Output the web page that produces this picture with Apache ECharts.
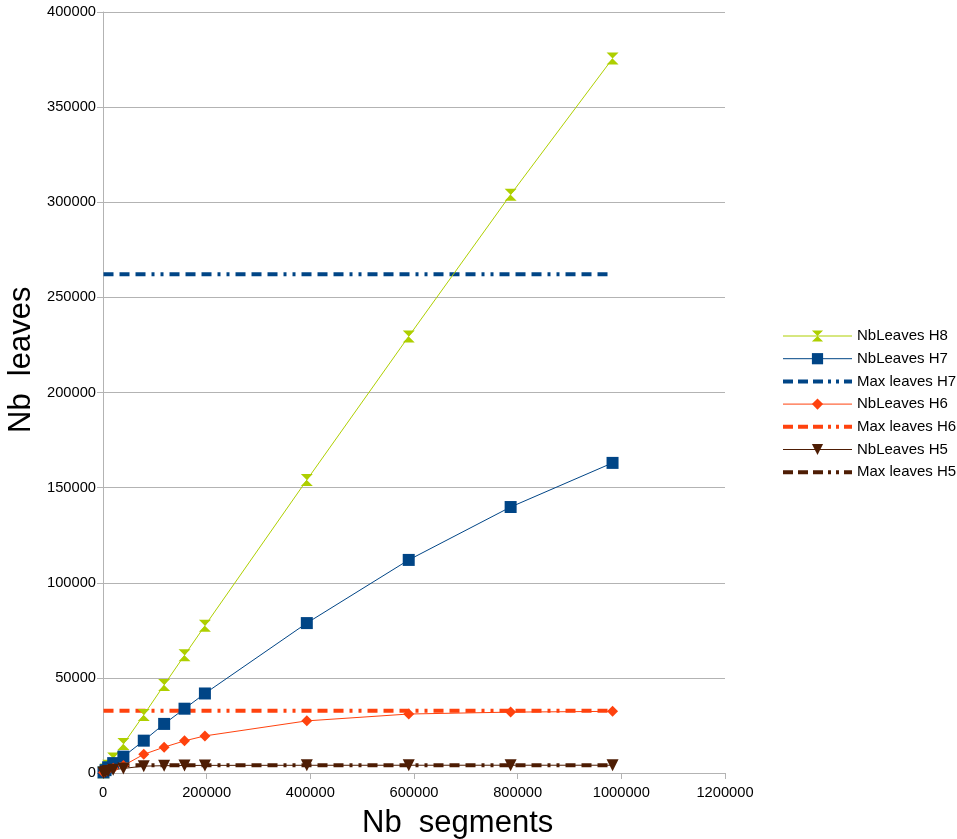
<!DOCTYPE html>
<html><head><meta charset="utf-8">
<script src="https://cdn.jsdelivr.net/npm/echarts@6/dist/echarts.min.js"></script>
<style>html,body{margin:0;padding:0;background:#fff}#c{width:957px;height:839px}</style>
</head><body><div id="c"></div>
<script>
const segments = [983, 4915, 9830, 19661, 39322, 78643, 117965, 157286, 196608, 393216, 589824, 786432, 983040];
const leavesH8 = [370, 1900, 3800, 7600, 15200, 30500, 46300, 61900, 77400, 154000, 229500, 304000, 375500];
const leavesH7 = [300, 1500, 3000, 5200, 8600, 17000, 25800, 33800, 41800, 78800, 112000, 139800, 163000];
const leavesH6 = [200, 900, 1800, 2500, 3900, 9800, 13600, 16900, 19500, 27400, 31000, 32000, 32400];
const leavesH5 = [150, 600, 1000, 1700, 2400, 3600, 3850, 3950, 4000, 4050, 4080, 4090, 4090];
const maxH7 = 262144, maxH6 = 32768, maxH5 = 4096;
const xTitle = 'Nb  segments';
const yTitle = 'Nb  leaves';
const legendNames = ['NbLeaves H8', 'NbLeaves H7', 'Max leaves H7', 'NbLeaves H6', 'Max leaves H6', 'NbLeaves H5', 'Max leaves H5'];

const FONT = 'Liberation Sans';
const pair = (ys) => segments.map((x, i) => [x, ys[i]]);
const flat = (v) => segments.map(x => [x, v]);
const dashPat = [10, 6, 10, 6, 10, 6, 3, 6, 3, 6];
const hourglass = 'path://M0,0 L10,0 L5,5 L10,10 L0,10 L5,5 Z';
const triDown = 'path://M0,0 L10,0 L5,10 Z';

const chart = echarts.init(document.getElementById('c'));
const lineSeries = (name, data, color, symbol, size) => ({
  name, type: 'line', data, symbol, symbolSize: size, showAllSymbol: true,
  lineStyle: {color, width: 1}, itemStyle: {color}, z: 3
});
const maxSeries = (name, v, color) => ({
  name, type: 'line', data: flat(v), symbol: 'circle', showSymbol: false,
  lineStyle: {color, width: 4, type: dashPat}, itemStyle: {color}, z: 2
});
chart.setOption({
  animation: false,
  textStyle: {fontFamily: FONT},
  grid: {left: 103, right: 232, top: 12, bottom: 66, containLabel: false, outerBoundsMode: 'none'},
  legend: {
    orient: 'vertical', left: 776, top: 323.5, itemWidth: 69, itemHeight: 14, itemGap: 7.7,
    textStyle: {fontSize: 15, color: '#000', fontFamily: FONT},
    data: legendNames.map(n => n.startsWith('Max')
      ? {name: n, itemStyle: {opacity: 0}, lineStyle: {width: 4, type: [10, 5, 10, 5, 10, 5, 3, 5, 3, 5]}}
      : {name: n, lineStyle: {width: 1}})
  },
  graphic: [
    {type: 'text', x: 362, y: 839, style: {text: xTitle, font: '31px "Liberation Sans"', fill: '#000', textAlign: 'left', textVerticalAlign: 'bottom'}},
    {type: 'text', x: 37, y: 433, rotation: Math.PI / 2, style: {text: yTitle, font: '31px "Liberation Sans"', fill: '#000', textAlign: 'left', textVerticalAlign: 'bottom'}}
  ],
  xAxis: {
    type: 'value', min: 0, max: 1200000, interval: 200000,
    axisLine: {lineStyle: {color: '#b3b3b3'}},
    axisTick: {show: true, length: 6, lineStyle: {color: '#b3b3b3'}},
    axisLabel: {fontSize: 14.7, color: '#000', margin: 12, formatter: v => String(v)},
    splitLine: {show: false}
  },
  yAxis: {
    type: 'value', min: 0, max: 400000, interval: 50000,
    axisLine: {show: true, lineStyle: {color: '#b3b3b3'}},
    axisTick: {show: true, length: 6, lineStyle: {color: '#b3b3b3'}},
    axisLabel: {fontSize: 14.7, color: '#000', margin: 7, formatter: v => String(v)},
    splitLine: {show: true, lineStyle: {color: '#b3b3b3', width: 1}}
  },
  series: [
    lineSeries('NbLeaves H8', pair(leavesH8), '#aecf00', hourglass, [12, 12]),
    lineSeries('NbLeaves H7', pair(leavesH7), '#004586', 'rect', 12),
    maxSeries('Max leaves H7', maxH7, '#004586'),
    lineSeries('NbLeaves H6', pair(leavesH6), '#ff420e', 'diamond', 11),
    maxSeries('Max leaves H6', maxH6, '#ff420e'),
    lineSeries('NbLeaves H5', pair(leavesH5), '#4e1d04', triDown, [12, 12]),
    maxSeries('Max leaves H5', maxH5, '#4e1d04')
  ]
});
</script></body></html>
